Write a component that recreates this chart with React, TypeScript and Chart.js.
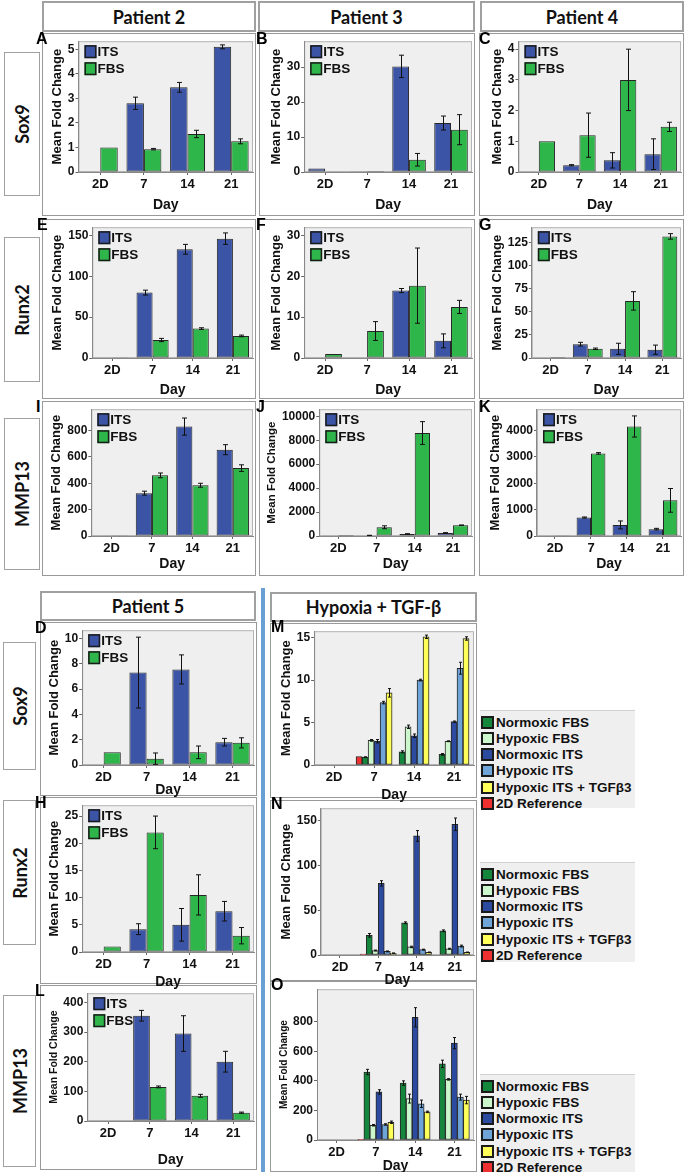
import React, { useEffect, useRef } from "react";
import { Chart, registerables } from "chart.js";

Chart.register(...registerables);
Chart.defaults.font.family = '"Liberation Sans", Arial, sans-serif';

// ---------- categories ----------
const days = ["2D", "7", "14", "21"];

// ---------- y tick labels ----------
const p2Sox9Ticks = [0, 1, 2, 3, 4, 5];
const p3Sox9Ticks = [0, 10, 20, 30];
const p4Sox9Ticks = [0, 1, 2, 3, 4];
const p2Runx2Ticks = [0, 50, 100, 150];
const p3Runx2Ticks = [0, 10, 20, 30];
const p4Runx2Ticks = [0, 25, 50, 75, 100, 125];
const p2Mmp13Ticks = [0, 200, 400, 600, 800];
const p3Mmp13Ticks = [0, 2000, 4000, 6000, 8000, 10000];
const p4Mmp13Ticks = [0, 1000, 2000, 3000, 4000];
const p5Sox9Ticks = [0, 2, 4, 6, 8, 10];
const p5Runx2Ticks = [0, 5, 10, 15, 20, 25];
const p5Mmp13Ticks = [0, 100, 200, 300, 400];
const hySox9Ticks = [0, 5, 10, 15];
const hyRunx2Ticks = [0, 50, 100, 150];
const hyMmp13Ticks = [0, 200, 400, 600, 800];

// ---------- Patient 2 ----------
const p2Sox9ITS = [null, 2.8, 3.45, 5.1];
const p2Sox9ITSErr = [0, 0.25, 0.2, 0.08];
const p2Sox9FBS = [1.0, 0.93, 1.55, 1.25];
const p2Sox9FBSErr = [0, 0.03, 0.15, 0.1];
const p2Runx2ITS = [null, 80, 133, 146];
const p2Runx2ITSErr = [0, 3, 6, 7];
const p2Runx2FBS = [1, 22, 36, 27];
const p2Runx2FBSErr = [0, 2, 1, 1];
const p2Mmp13ITS = [null, 325, 830, 655];
const p2Mmp13ITSErr = [0, 15, 65, 38];
const p2Mmp13FBS = [2, 460, 385, 515];
const p2Mmp13FBSErr = [0, 18, 15, 25];

// ---------- Patient 3 ----------
const p3Sox9ITS = [1.0, 0.1, 30.2, 14.0];
const p3Sox9ITSErr = [0, 0, 3.2, 2.0];
const p3Sox9FBS = [null, 0.3, 3.5, 12.1];
const p3Sox9FBSErr = [0, 0, 1.8, 4.3];
const p3Runx2ITS = [null, 0.1, 16.5, 4.2];
const p3Runx2ITSErr = [0, 0, 0.5, 1.7];
const p3Runx2FBS = [1.0, 6.6, 17.7, 12.5];
const p3Runx2FBSErr = [0, 2.3, 9.2, 1.6];
const p3Mmp13ITS = [null, 50, 170, 250];
const p3Mmp13ITSErr = [0, 10, 20, 30];
const p3Mmp13FBS = [10, 730, 8600, 900];
const p3Mmp13FBSErr = [0, 120, 950, 20];

// ---------- Patient 4 ----------
const p4Sox9ITS = [null, 0.22, 0.38, 0.58];
const p4Sox9ITSErr = [0, 0.02, 0.25, 0.5];
const p4Sox9FBS = [1.0, 1.2, 3.0, 1.47];
const p4Sox9FBSErr = [0, 0.72, 1.0, 0.15];
const p4Runx2ITS = [null, 15, 10, 9];
const p4Runx2ITSErr = [0, 2, 6, 5];
const p4Runx2FBS = [1, 10, 62, 132];
const p4Runx2FBSErr = [0, 0.8, 10, 3];
const p4Mmp13ITS = [null, 700, 420, 260];
const p4Mmp13ITSErr = [0, 20, 150, 30];
const p4Mmp13FBS = [5, 3130, 4150, 1350];
const p4Mmp13FBSErr = [0, 30, 400, 450];

// ---------- Patient 5 ----------
const p5Sox9ITS = [null, 7.3, 7.55, 1.8];
const p5Sox9ITSErr = [0, 2.8, 1.15, 0.3];
const p5Sox9FBS = [1.0, 0.5, 1.0, 1.75];
const p5Sox9FBSErr = [0, 0.45, 0.5, 0.4];
const p5Runx2ITS = [null, 4.2, 5.0, 7.5];
const p5Runx2ITSErr = [0, 1.0, 3.0, 1.8];
const p5Runx2FBS = [1.0, 22, 10.5, 3.0];
const p5Runx2FBSErr = [0, 3.0, 3.7, 1.5];
const p5Mmp13ITS = [null, 355, 295, 200];
const p5Mmp13ITSErr = [0, 18, 60, 35];
const p5Mmp13FBS = [2, 115, 85, 28];
const p5Mmp13FBSErr = [0, 3, 5, 2];

// ---------- Hypoxia + TGF-beta ----------
const hyLabels = ["2D Reference", "Normoxic FBS", "Hypoxic FBS", "Normoxic ITS", "Hypoxic ITS", "Hypoxic ITS + TGFβ3"];
const hyColors = ["#ee3030", "#14873d", "#ccf6cc", "#2c4aa0", "#6ea4d8", "#ffff5a"];
const hyLegendOrder = [1, 2, 3, 4, 5, 0];

const hySox9 = [
  [null, 1.0, null, null],
  [null, 0.93, 1.55, 1.25],
  [null, 2.9, 4.5, 2.8],
  [null, 2.8, 3.45, 5.1],
  [null, 7.35, 10.0, 11.4],
  [null, 8.5, 15.1, 14.9],
];
const hySox9Err = [
  [0, 0, 0, 0],
  [0, 0.03, 0.12, 0.1],
  [0, 0.1, 0.2, 0.05],
  [0, 0.2, 0.2, 0.08],
  [0, 0.15, 0.1, 0.7],
  [0, 0.5, 0.2, 0.2],
];
const hyRunx2 = [
  [null, 1, null, null],
  [null, 22, 36, 27],
  [null, 5, 9, 7],
  [null, 80, 133, 146],
  [null, 4, 6, 10],
  [null, 2, 3, 3],
];
const hyRunx2Err = [
  [0, 0, 0, 0],
  [0, 2, 1, 1],
  [0, 0.5, 0.8, 0.5],
  [0, 3, 6, 7],
  [0, 0.5, 0.5, 1],
  [0, 0.3, 0.3, 0.3],
];
const hyMmp13 = [
  [null, 1, null, null],
  [null, 460, 385, 515],
  [null, 100, 280, 410],
  [null, 325, 830, 655],
  [null, 105, 245, 290],
  [null, 120, 190, 270],
];
const hyMmp13Err = [
  [0, 0, 0, 0],
  [0, 18, 15, 25],
  [0, 5, 30, 5],
  [0, 15, 65, 38],
  [0, 5, 25, 20],
  [0, 8, 5, 25],
];

const ITS_COLOR = "#3b54a5";
const FBS_COLOR = "#2fb64a";
const TXT = "#111";

// ---------- plugins ----------
const plotBg = {
  id: "plotBg",
  beforeDraw(chart: any) {
    const { ctx, chartArea: a } = chart;
    ctx.save();
    ctx.fillStyle = "#efefef";
    ctx.fillRect(a.left, a.top, a.right - a.left, a.bottom - a.top);
    ctx.strokeStyle = "#b4b4b4";
    ctx.lineWidth = 1;
    ctx.strokeRect(a.left + 0.5, a.top + 0.5, a.right - a.left - 1, a.bottom - a.top - 1);
    ctx.restore();
  },
};

const errorBars = {
  id: "errorBars",
  afterDatasetsDraw(chart: any) {
    const { ctx } = chart;
    const ys = chart.scales.y;
    chart.data.datasets.forEach((ds: any, di: number) => {
      const errs = ds.errors;
      if (!errs) return;
      const meta = chart.getDatasetMeta(di);
      meta.data.forEach((bar: any, i: number) => {
        const v = ds.data[i];
        const e = errs[i];
        if (v == null || !e) return;
        const x = Math.round(bar.x) + 0.5;
        const top = ys.getPixelForValue(v + e);
        const bot = ys.getPixelForValue(Math.max(0, v - e));
        const cap = Math.min(2.5, bar.width / 4);
        ctx.save();
        ctx.strokeStyle = "#111";
        ctx.lineWidth = 1;
        ctx.beginPath();
        ctx.moveTo(x, top);
        ctx.lineTo(x, bot);
        ctx.moveTo(x - cap, top);
        ctx.lineTo(x + cap, top);
        ctx.moveTo(x - cap, bot);
        ctx.lineTo(x + cap, bot);
        ctx.stroke();
        ctx.restore();
      });
    });
  },
};

const innerLegend = {
  id: "innerLegend",
  afterDraw(chart: any, _args: any, opts: any) {
    if (!opts || !opts.display) return;
    const { ctx, chartArea: a } = chart;
    ctx.save();
    chart.data.datasets.forEach((ds: any, i: number) => {
      const x = a.left + 6;
      const y = a.top + 4 + i * 17;
      ctx.fillStyle = ds.backgroundColor;
      ctx.fillRect(x, y, 12, 13);
      ctx.strokeStyle = "#1a1a1a";
      ctx.lineWidth = 1.5;
      ctx.strokeRect(x + 0.75, y + 0.75, 10.5, 11.5);
      ctx.fillStyle = TXT;
      ctx.font = 'bold 13.5px "Liberation Sans", Arial, sans-serif';
      ctx.textBaseline = "middle";
      ctx.textAlign = "left";
      ctx.fillText(ds.label, x + 13, y + 7);
    });
    ctx.restore();
  },
};

// ---------- panel specs ----------
type DS = { label: string; data: (number | null)[]; errors: number[]; color: string };
type Spec = {
  letter: string;
  letterPos: [number, number];
  frame: [number, number, number, number];
  plotTop: number;
  plotBottom: number;
  dayY: number;
  titleCx: number;
  titleSize: number;
  yMax: number;
  ticks: number[];
  datasets: DS[];
  hypoxia?: boolean;
};

const two = (its: any[], itsErr: number[], fbs: any[], fbsErr: number[]): DS[] => [
  { label: "ITS", data: its, errors: itsErr, color: ITS_COLOR },
  { label: "FBS", data: fbs, errors: fbsErr, color: FBS_COLOR },
];
const six = (vals: any[][], errs: number[][]): DS[] =>
  hyLabels.map((l, i) => ({ label: l, data: vals[i], errors: errs[i], color: hyColors[i] }));

const C1: [number, number] = [42, 214];
const C2: [number, number] = [259, 216];
const C3: [number, number] = [479, 205];
const R1 = { y: 33, h: 183, pt: 39, pb: 172, day: 205 };
const R2 = { y: 219, h: 180, pt: 225, pb: 358, day: 390 };
const R3 = { y: 401, h: 175, pt: 403, pb: 536, day: 564 };

const mk = (letter: string, col: [number, number], row: any, lx: number, titleCx: number, titleSize: number, yMax: number, ticks: number[], datasets: DS[]): Spec => ({
  letter,
  letterPos: [lx, row.y],
  frame: [col[0], row.y, col[1], row.h],
  plotTop: row.pt,
  plotBottom: row.pb,
  dayY: row.day,
  titleCx,
  titleSize,
  yMax,
  ticks,
  datasets,
});

const specs: Spec[] = [
  mk("A", C1, R1, 36, 57, 13, 5.33, p2Sox9Ticks, two(p2Sox9ITS, p2Sox9ITSErr, p2Sox9FBS, p2Sox9FBSErr)),
  mk("B", C2, R1, 256, 276, 13, 37.4, p3Sox9Ticks, two(p3Sox9ITS, p3Sox9ITSErr, p3Sox9FBS, p3Sox9FBSErr)),
  mk("C", C3, R1, 479, 497, 13, 4.26, p4Sox9Ticks, two(p4Sox9ITS, p4Sox9ITSErr, p4Sox9FBS, p4Sox9FBSErr)),
  mk("E", C1, R2, 37, 57.5, 13, 160, p2Runx2Ticks, two(p2Runx2ITS, p2Runx2ITSErr, p2Runx2FBS, p2Runx2FBSErr)),
  mk("F", C2, R2, 256, 276, 13, 32, p3Runx2Ticks, two(p3Runx2ITS, p3Runx2ITSErr, p3Runx2FBS, p3Runx2FBSErr)),
  mk("G", C3, R2, 479, 497, 13, 142, p4Runx2Ticks, two(p4Runx2ITS, p4Runx2ITSErr, p4Runx2FBS, p4Runx2FBSErr)),
  mk("I", C1, R3, 36, 56.5, 13, 962, p2Mmp13Ticks, two(p2Mmp13ITS, p2Mmp13ITSErr, p2Mmp13FBS, p2Mmp13FBSErr)),
  mk("J", C2, R3, 256, 272, 11.5, 10588, p3Mmp13Ticks, two(p3Mmp13ITS, p3Mmp13ITSErr, p3Mmp13FBS, p3Mmp13FBSErr)),
  mk("K", C3, R3, 479, 495.5, 13, 4805, p4Mmp13Ticks, two(p4Mmp13ITS, p4Mmp13ITSErr, p4Mmp13FBS, p4Mmp13FBSErr)),
  {
    letter: "D", letterPos: [35, 622], frame: [40, 622, 217, 174], plotTop: 628, plotBottom: 765, dayY: 790,
    titleCx: 54, titleSize: 13, yMax: 10.65, ticks: p5Sox9Ticks, datasets: two(p5Sox9ITS, p5Sox9ITSErr, p5Sox9FBS, p5Sox9FBSErr),
  },
  {
    letter: "H", letterPos: [35, 797], frame: [40, 797, 217, 187], plotTop: 803, plotBottom: 952, dayY: 982,
    titleCx: 54, titleSize: 13, yMax: 27, ticks: p5Runx2Ticks, datasets: two(p5Runx2ITS, p5Runx2ITSErr, p5Runx2FBS, p5Runx2FBSErr),
  },
  {
    letter: "L", letterPos: [35, 985], frame: [40, 985, 217, 185], plotTop: 993, plotBottom: 1121, dayY: 1160,
    titleCx: 54, titleSize: 10.5, yMax: 431, ticks: p5Mmp13Ticks, datasets: two(p5Mmp13ITS, p5Mmp13ITSErr, p5Mmp13FBS, p5Mmp13FBSErr),
  },
  {
    letter: "M", letterPos: [271, 621], frame: [270, 623, 207, 175], plotTop: 626, plotBottom: 765, dayY: 795,
    titleCx: 286, titleSize: 13, yMax: 15.76, ticks: hySox9Ticks, datasets: six(hySox9, hySox9Err), hypoxia: true,
  },
  {
    letter: "N", letterPos: [271, 798], frame: [270, 800, 207, 181], plotTop: 806, plotBottom: 955, dayY: 980,
    titleCx: 286, titleSize: 13, yMax: 164, ticks: hyRunx2Ticks, datasets: six(hyRunx2, hyRunx2Err), hypoxia: true,
  },
  {
    letter: "O", letterPos: [271, 979], frame: [270, 981, 207, 191], plotTop: 988, plotBottom: 1140, dayY: 1166,
    titleCx: 284, titleSize: 10, yMax: 1020, ticks: hyMmp13Ticks, datasets: six(hyMmp13, hyMmp13Err), hypoxia: true,
  },
];

// ---------- components ----------
function ChartPanel({ spec }: { spec: Spec }) {
  const ref = useRef<HTMLCanvasElement | null>(null);
  const [fx, fy, fw, fh] = spec.frame;
  const dayLh = 14 * 1.2;
  const axisH = spec.dayY - spec.plotBottom + dayLh / 2;
  const canvasH = Math.ceil(Math.max(fh, spec.plotBottom - fy + axisH + 2));
  const padBottom = canvasH - (spec.plotBottom - fy) - axisH;
  const padLeft = spec.titleCx - fx - (spec.titleSize * 1.2) / 2;

  useEffect(() => {
    if (!ref.current) return;
    const hy = !!spec.hypoxia;
    const chart = new Chart(ref.current, {
      type: "bar",
      data: {
        labels: days,
        datasets: spec.datasets.map((d) => ({
          label: d.label,
          data: d.data,
          errors: d.errors,
          backgroundColor: d.color,
          borderColor: "#262626",
          borderWidth: 1,
          borderSkipped: false,
        })) as any,
      },
      options: {
        animation: false,
        responsive: false,
        maintainAspectRatio: false,
        layout: { padding: { top: spec.plotTop - fy, bottom: padBottom, left: padLeft, right: 3 } },
        datasets: {
          bar: hy
            ? { barThickness: 6, skipNull: true, categoryPercentage: 0.9, barPercentage: 1 }
            : { categoryPercentage: 0.8, barPercentage: 1 },
        } as any,
        scales: {
          x: {
            grid: { display: true, drawOnChartArea: false, drawTicks: true, tickLength: 3, color: "#666", offset: false },
            border: { display: true, color: "#888" },
            ticks: { autoSkip: false, maxRotation: 0, padding: 2, color: TXT, font: { size: 13, weight: "bold" } },
            title: { display: true, text: "Day", color: TXT, font: { size: 14, weight: "bold" }, padding: { top: 0, bottom: 0 } },
            afterFit: (s: any) => {
              s.height = axisH;
            },
          },
          y: {
            min: 0,
            max: spec.yMax,
            grid: { display: true, drawOnChartArea: false, drawTicks: true, tickLength: 3, color: "#666" },
            border: { display: true, color: "#888" },
            afterBuildTicks: (s: any) => {
              s.ticks = spec.ticks.map((v) => ({ value: v }));
            },
            ticks: {
              padding: 1,
              color: TXT,
              font: { size: 12, weight: "bold" },
              callback: (v: any) => String(v),
            },
            title: {
              display: true,
              text: "Mean Fold Change",
              color: TXT,
              font: { size: spec.titleSize, weight: "bold" },
              padding: { top: 0, bottom: 2 },
            },
          },
        },
        plugins: {
          legend: { display: false },
          tooltip: { enabled: false },
          innerLegend: { display: !hy },
        } as any,
      },
      plugins: [plotBg, errorBars, innerLegend],
    } as any);
    return () => chart.destroy();
  }, []);

  return (
    <canvas
      ref={ref}
      width={fw}
      height={canvasH}
      style={{ position: "absolute", left: fx, top: fy, width: fw, height: canvasH }}
    />
  );
}

const boxStyle = (x: number, y: number, w: number, h: number): React.CSSProperties => ({
  position: "absolute",
  left: x,
  top: y,
  width: w,
  height: h,
  boxSizing: "border-box",
  border: "1.5px solid #999",
  background: "#fff",
});

function Header({ x, y, w, h, text }: { x: number; y: number; w: number; h: number; text: string }) {
  return (
    <div
      style={{
        ...boxStyle(x, y, w, h),
        border: "2px solid #a0a0a0",
        display: "flex",
        alignItems: "center",
        justifyContent: "center",
        font: 'bold 18px Lato, "Open Sans", sans-serif',
        color: "#111",
      }}
    >
      {text}
    </div>
  );
}

function RowLabel({ x, y, w, h, text }: { x: number; y: number; w: number; h: number; text: string }) {
  return (
    <div style={{ ...boxStyle(x, y, w, h), border: "1.5px solid #a0a0a0" }}>
      <div
        style={{
          position: "absolute",
          left: "50%",
          top: "50%",
          transform: "translate(-50%, -50%) rotate(-90deg)",
          font: 'bold 18px Lato, "Open Sans", sans-serif',
          color: "#111",
          whiteSpace: "nowrap",
        }}
      >
        {text}
      </div>
    </div>
  );
}

function HyLegend({ x, y, w, h, top }: { x: number; y: number; w: number; h: number; top: number }) {
  return (
    <div
      style={{
        position: "absolute",
        left: x,
        top: y,
        width: w,
        height: h,
        background: "#efefef",
        borderTop: "1px solid #d0d0d0",
        boxSizing: "border-box",
      }}
    >
      {hyLegendOrder.map((idx, k) => (
        <div
          key={k}
          style={{
            position: "absolute",
            left: 1,
            top: top + k * 16.3,
            height: 16,
            display: "flex",
            alignItems: "center",
            whiteSpace: "nowrap",
          }}
        >
          <span
            style={{
              display: "inline-block",
              width: 13,
              height: 13,
              boxSizing: "border-box",
              border: "2px solid #1a1a1a",
              background: hyColors[idx],
              marginRight: 2,
            }}
          />
          <span style={{ font: 'bold 13.5px "Liberation Sans", Arial, sans-serif', color: "#111" }}>{hyLabels[idx]}</span>
        </div>
      ))}
    </div>
  );
}

export default function App() {
  return (
    <div
      style={{
        position: "absolute",
        left: 0,
        top: 0,
        width: 685,
        height: 1172,
        background: "#fff",
        overflow: "hidden",
      }}
    >
      <Header x={42} y={1} w={214} h={31} text="Patient 2" />
      <Header x={258} y={1} w={217} h={31} text="Patient 3" />
      <Header x={480} y={1} w={204} h={31} text="Patient 4" />
      <Header x={40} y={591} w={216} h={30} text="Patient 5" />
      <Header x={270} y={592} w={207} h={30} text="Hypoxia + TGF-β" />

      <RowLabel x={4} y={52} w={36} h={144} text="Sox9" />
      <RowLabel x={4} y={237} w={36} h={145} text="Runx2" />
      <RowLabel x={4} y={418} w={36} h={152} text="MMP13" />
      <RowLabel x={3} y={642} w={33} h={128} text="Sox9" />
      <RowLabel x={3} y={800} w={33} h={145} text="Runx2" />
      <RowLabel x={3} y={995} w={33} h={172} text="MMP13" />

      {specs.map((s) => (
        <div key={"f" + s.letter} style={boxStyle(s.frame[0], s.frame[1], s.frame[2], s.frame[3])} />
      ))}
      {specs.map((s) => (
        <ChartPanel key={"c" + s.letter} spec={s} />
      ))}
      {specs.map((s) => (
        <div
          key={"l" + s.letter}
          style={{
            position: "absolute",
            left: s.letterPos[0],
            top: s.letterPos[1] - 1,
            font: 'bold 16px "Liberation Sans", Arial, sans-serif',
            lineHeight: "14px",
            color: "#000",
          }}
        >
          {s.letter}
        </div>
      ))}

      <div style={{ position: "absolute", left: 261, top: 588, width: 4, height: 584, background: "#6a9fd6" }} />

      <HyLegend x={480} y={710} w={155} h={98} top={3} />
      <HyLegend x={480} y={862} w={155} h={100} top={3} />
      <HyLegend x={480} y={1074} w={155} h={98} top={3} />
    </div>
  );
}
